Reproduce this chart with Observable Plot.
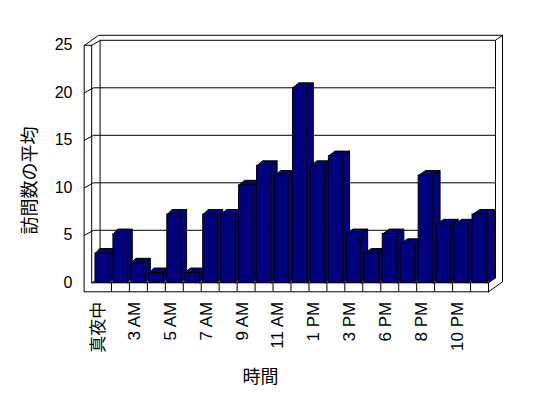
<!DOCTYPE html>
<html><head><meta charset="utf-8">
<script src="https://cdn.jsdelivr.net/npm/d3@7"></script>
<script src="https://cdn.jsdelivr.net/npm/@observablehq/plot@0.6"></script>
<style>
html,body{margin:0;padding:0;background:#fff;}
#chart svg{display:block;}
</style></head><body><div id="chart"></div>
<script>
// ---- data ----
const hours = ["真夜中","1 AM","3 AM","4 AM","5 AM","6 AM","7 AM","8 AM","9 AM","10 AM","11 AM","正午",
               "1 PM","2 PM","3 PM","4 PM","6 PM","7 PM","8 PM","9 PM","10 PM","11 PM"];
const visits = [3,5,2,1,7,1,7,7,10,12,11,20,12,13,5,3,5,4,11,6,6,7];
const yTicks = [0,5,10,15,20,25];
const gridValues = [5,10,15,20];
const shownLabels = hours.map((h,i)=>i).filter(i => i % 2 === 0);

// ---- 3D projection settings (styles) ----
const n = hours.length, yMax = 25;
const xRange = [93, 488], yRange = [282.3, 44.8];
const pxX = (xRange[1]-xRange[0])/n, pxY = (yRange[0]-yRange[1])/yMax;
const DX = 7/pxX, DY = 5/pxY;          // oblique depth of walls
const wallX = -9/pxX, innerX = -1.8/pxX, floorY = -9/pxY;
const barL = 0.11, barR = 0.9;
const persp = 1.026;                    // front faces of bars are slightly nearer
const navy = "#000080";

const poly = (id, pts) => pts.map(([x,y]) => ({id, x, y}));

// frame geometry
const outer = poly("outer", [[wallX,yMax],[wallX+2*DX,yMax+2*DY],[n+2*DX,yMax+2*DY],
  [n+2*DX,floorY+2*DY],[n,floorY],[wallX,floorY]]);
const backWall = poly("back", [[DX,DY],[n+DX,DY],[n+DX,yMax+DY],[DX,yMax+DY]]);
const frameLines = [
  ...poly("l1", [[wallX,yMax],[innerX,yMax],[DX,yMax+DY]]),
  ...poly("l2", [[innerX,yMax],[innerX,0],[n,0],[n,floorY]]),
  ...poly("l3", [[n,0],[n+DX,DY]]),
  ...poly("l4", [[n+DX,yMax+DY],[n+2*DX,yMax+2*DY]]),
  ...poly("l5", [[innerX,0],[DX,DY]]),
  ...gridValues.flatMap(v => poly("g"+v, [[wallX,v],[0,v+DY],[n+DX,v+DY]]))
];

// bars
const bars = visits.map((v,i) => ({i, v, h: v*persp, s: (4.5 + 3.2*i/(n-1))/pxX}));
const sides = bars.flatMap(b => poly("s"+b.i, [[b.i+barR,0],[b.i+barR,b.h],[b.i+barR+b.s,b.h+DY],[b.i+barR+b.s,DY]]));
const tops = bars.flatMap(b => poly("t"+b.i, [[b.i+barL,b.h],[b.i+barR,b.h],[b.i+barR+b.s,b.h+DY],[b.i+barL+b.s,b.h+DY]]));

const font = '"Liberation Sans", "Noto Sans CJK JP", sans-serif';
const polyOpts = (fill) => ({x:"x", y:"y", z:"id", curve:"linear-closed", fill, stroke:"black", strokeWidth:1, strokeLinejoin:"miter"});

const chart = Plot.plot({
  width: 548, height: 398,
  margin: 0,
  style: {fontFamily: font, background: "#fff", color: "black"},
  x: {domain: [0, n], range: xRange, axis: null},
  y: {domain: [0, yMax], range: yRange, axis: null},
  marks: [
    Plot.line(outer, polyOpts("white")),
    Plot.line(backWall, polyOpts("white")),
    Plot.line(frameLines, {x:"x", y:"y", z:"id", stroke:"black", strokeWidth:1, strokeLinejoin:"miter"}),
    Plot.ruleX(d3.range(1, n), {x: d => d, y1: floorY, y2: 0, stroke: "black", strokeWidth: 1}),
    Plot.line(sides, polyOpts(navy)),
    Plot.line(tops, polyOpts(navy)),
    Plot.rect(bars, {x1: d => d.i+barL, x2: d => d.i+barR, y1: 0, y2: d => d.h, fill: navy, stroke: "black", strokeWidth: 1}),
    Plot.text(yTicks, {x: wallX, y: d => d, text: d => String(d), textAnchor: "end", dx: -12, fontSize: 16, fill: "black"}),
    Plot.text(shownLabels, {x: i => i + 0.5, y: floorY, text: i => hours[i], rotate: -90, textAnchor: "end", dx: -4, dy: 10, fontSize: 17, fill: "black"}),
    Plot.text(["時間"], {frameAnchor: "bottom", textAnchor: "middle", lineAnchor: "middle", dx: -14, dy: -21, fontSize: 18, fill: "black"}),
    Plot.text(["訪問数の平均"], {frameAnchor: "left", textAnchor: "middle", lineAnchor: "middle", rotate: -90, dx: 30, dy: -19, fontSize: 18, fill: "black"})
  ]
});
document.getElementById("chart").appendChild(chart);
</script>
</body></html>
